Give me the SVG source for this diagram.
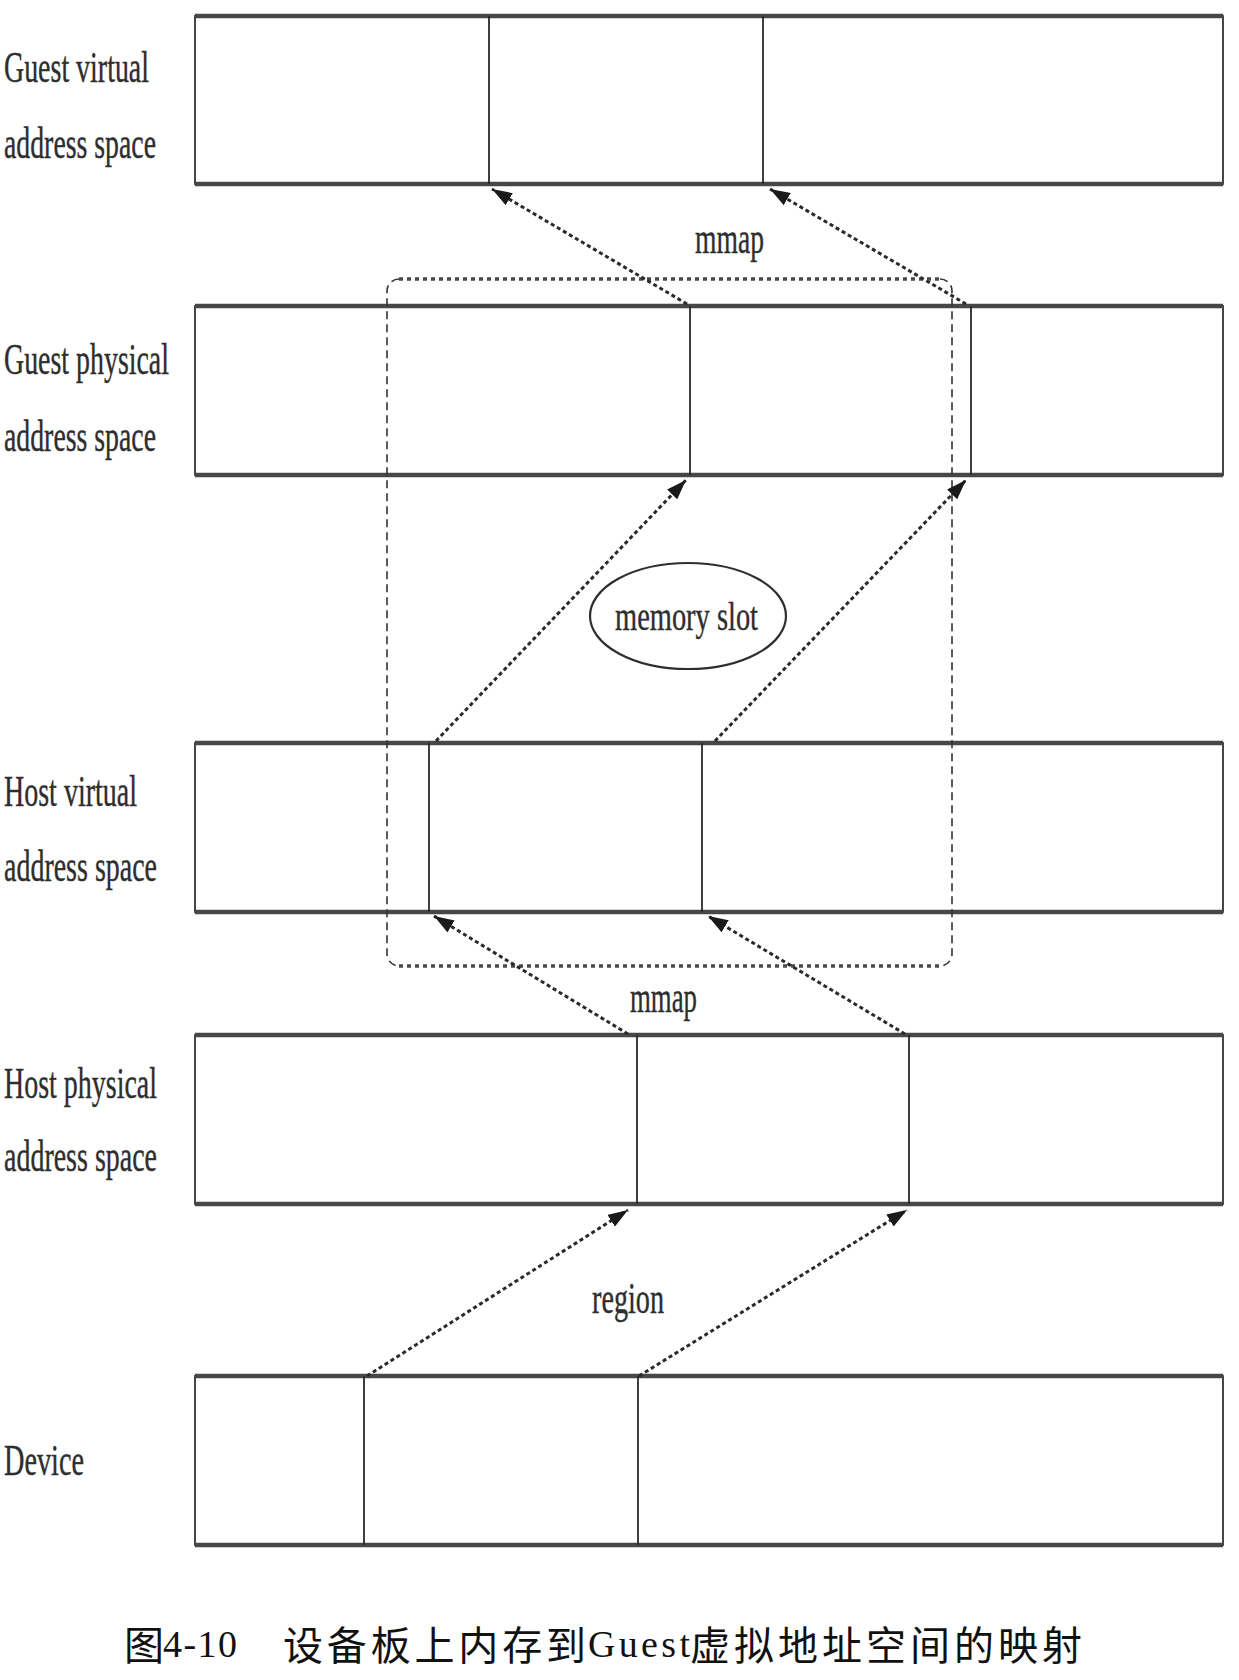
<svg xmlns="http://www.w3.org/2000/svg" width="1239" height="1680" viewBox="0 0 1239 1680">
<style>
.box{fill:#fff;stroke:#333;stroke-width:1.8}
.edge{stroke:#474747;stroke-width:4.5}
.div{stroke:#2a2a2a;stroke-width:1.8}
.lbl{font-family:"Liberation Serif","Times New Roman",serif;font-size:44px;fill:#2e2e2e;stroke:#2e2e2e;stroke-width:0.4}
.arr{fill:none;stroke:#2a2a2a;stroke-width:3;stroke-dasharray:4 3}
.side{fill:none;stroke:#333;stroke-width:1.6;stroke-dasharray:8 5}
.dot{fill:none;stroke:#4a4a4a;stroke-width:3.4;stroke-dasharray:4 4}
.cap{font-family:"Noto Sans CJK SC",sans-serif;font-size:40px;fill:#111}
.capl{font-family:"Liberation Serif","Times New Roman",serif;font-size:38px;fill:#111}
</style>
<defs>
<marker id="ah" viewBox="0 0 20 14" refX="20" refY="7" markerWidth="20" markerHeight="14" markerUnits="userSpaceOnUse" orient="auto">
<path d="M0,0 L20,7 L0,14 z" fill="#1a1a1a"/>
</marker>
</defs>
<rect width="1239" height="1680" fill="#fff"/>

<g id="guest-virtual">
<rect class="box" x="195" y="16" width="1028" height="168"/>
<line class="edge" x1="195" y1="16" x2="1223" y2="16"/>
<line class="edge" x1="195" y1="184" x2="1223" y2="184"/>
<line class="div" x1="489" y1="16" x2="489" y2="184"/>
<line class="div" x1="763" y1="16" x2="763" y2="184"/>
<text class="lbl" x="4" y="82" textLength="145" lengthAdjust="spacingAndGlyphs">Guest virtual</text>
<text class="lbl" x="4" y="158" textLength="152" lengthAdjust="spacingAndGlyphs">address space</text>
</g>

<g id="guest-physical">
<rect class="box" x="195" y="306" width="1028" height="169"/>
<line class="edge" x1="195" y1="306" x2="1223" y2="306"/>
<line class="edge" x1="195" y1="475" x2="1223" y2="475"/>
<line class="div" x1="690" y1="306" x2="690" y2="475"/>
<line class="div" x1="971" y1="306" x2="971" y2="475"/>
<text class="lbl" x="4" y="374" textLength="165" lengthAdjust="spacingAndGlyphs">Guest physical</text>
<text class="lbl" x="4" y="451" textLength="152" lengthAdjust="spacingAndGlyphs">address space</text>
</g>

<g id="host-virtual">
<rect class="box" x="195" y="743" width="1028" height="169"/>
<line class="edge" x1="195" y1="743" x2="1223" y2="743"/>
<line class="edge" x1="195" y1="912" x2="1223" y2="912"/>
<line class="div" x1="429" y1="743" x2="429" y2="912"/>
<line class="div" x1="702" y1="743" x2="702" y2="912"/>
<text class="lbl" x="4" y="806" textLength="133" lengthAdjust="spacingAndGlyphs">Host virtual</text>
<text class="lbl" x="4" y="881" textLength="153" lengthAdjust="spacingAndGlyphs">address space</text>
</g>

<g id="host-physical">
<rect class="box" x="195" y="1035" width="1028" height="169"/>
<line class="edge" x1="195" y1="1035" x2="1223" y2="1035"/>
<line class="edge" x1="195" y1="1204" x2="1223" y2="1204"/>
<line class="div" x1="637" y1="1035" x2="637" y2="1204"/>
<line class="div" x1="909" y1="1035" x2="909" y2="1204"/>
<text class="lbl" x="4" y="1098" textLength="153" lengthAdjust="spacingAndGlyphs">Host physical</text>
<text class="lbl" x="4" y="1171" textLength="153" lengthAdjust="spacingAndGlyphs">address space</text>
</g>

<g id="device">
<rect class="box" x="195" y="1376" width="1028" height="169"/>
<line class="edge" x1="195" y1="1376" x2="1223" y2="1376"/>
<line class="edge" x1="195" y1="1545" x2="1223" y2="1545"/>
<line class="div" x1="364" y1="1376" x2="364" y2="1545"/>
<line class="div" x1="638" y1="1376" x2="638" y2="1545"/>
<text class="lbl" x="4" y="1475" textLength="80" lengthAdjust="spacingAndGlyphs">Device</text>
</g>

<g id="memory-slot">
<ellipse cx="688" cy="616" rx="98" ry="53" fill="#fff" stroke="#2e2e2e" stroke-width="2.2"/>
<text class="lbl" x="615" y="630" style="font-size:40px" textLength="143" lengthAdjust="spacingAndGlyphs">memory slot</text>
</g>

<g id="connectors">
<path class="side" d="M399,279 A12,12 0 0 0 387,291 L387,954 A12,12 0 0 0 399,966"/>
<path class="side" d="M940,279 A12,12 0 0 1 952,291 L952,954 A12,12 0 0 1 940,966"/>
<line class="dot" x1="399" y1="279" x2="940" y2="279"/>
<line class="dot" x1="399" y1="966" x2="940" y2="966"/>
<line class="arr" x1="687" y1="304" x2="492" y2="189" marker-end="url(#ah)"/>
<line class="arr" x1="966" y1="304" x2="770" y2="189" marker-end="url(#ah)"/>
<line class="arr" x1="436" y1="741" x2="686" y2="480" marker-end="url(#ah)"/>
<line class="arr" x1="715" y1="741" x2="966" y2="480" marker-end="url(#ah)"/>
<line class="arr" x1="628" y1="1034" x2="434" y2="916" marker-end="url(#ah)"/>
<line class="arr" x1="905" y1="1034" x2="708" y2="916" marker-end="url(#ah)"/>
<line class="arr" x1="367" y1="1376" x2="628" y2="1210" marker-end="url(#ah)"/>
<line class="arr" x1="639" y1="1376" x2="907" y2="1210" marker-end="url(#ah)"/>
</g>

<g id="edge-labels">
<text class="lbl" x="695" y="253" textLength="69" lengthAdjust="spacingAndGlyphs">mmap</text>
<text class="lbl" x="630" y="1012" textLength="67" lengthAdjust="spacingAndGlyphs">mmap</text>
<text class="lbl" x="592" y="1313" textLength="72" lengthAdjust="spacingAndGlyphs">region</text>
</g>

<g id="caption">
<text class="cap" x="124" y="1660">图</text>
<text class="capl" x="163" y="1657" textLength="74" lengthAdjust="spacing">4-10</text>
<text class="cap" x="283" y="1660" textLength="303" lengthAdjust="spacing">设备板上内存到</text>
<text class="capl" x="588" y="1657" textLength="102" lengthAdjust="spacing">Guest</text>
<text class="cap" x="690" y="1660" textLength="392" lengthAdjust="spacing">虚拟地址空间的映射</text>
</g>
</svg>
